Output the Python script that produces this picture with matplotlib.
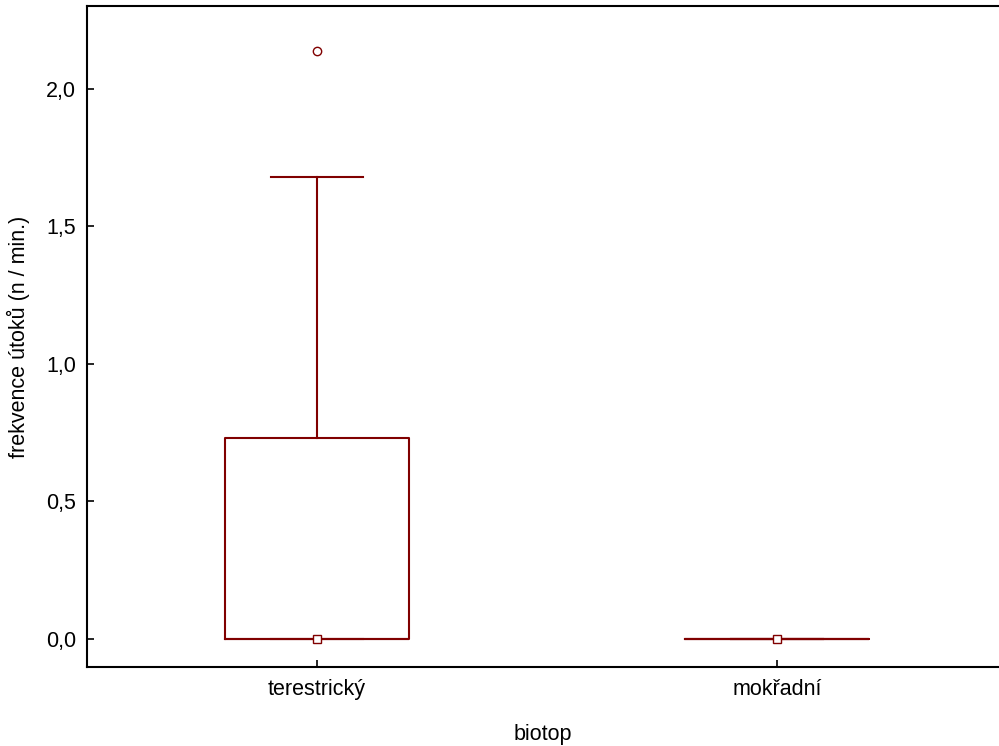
import matplotlib
matplotlib.use("Agg")
import matplotlib.pyplot as plt

plt.rcParams["font.family"] = ["Liberation Sans", "DejaVu Sans"]

# box plot summary per biotope (median, quartiles, whiskers, outliers)
biotopes = ["terestrický", "mokřadní"]
medians = [0.0, 0.0]
q1 = [0.0, 0.0]
q3 = [0.73, 0.0]
whisker_low = [0.0, 0.0]
whisker_high = [1.68, 0.0]
outliers = [[2.14], []]

red = "#800000"
fs = 15.5

stats = []
for i, name in enumerate(biotopes):
    stats.append({"label": name, "med": medians[i], "q1": q1[i], "q3": q3[i],
                  "whislo": whisker_low[i], "whishi": whisker_high[i], "fliers": outliers[i]})

fig = plt.figure(figsize=(9.99, 7.46), dpi=100)
ax = fig.add_axes([0.0871, 0.1059, 0.9129, 0.8861])

pos = [1, 2]
ax.bxp(stats, positions=pos, widths=0.4, capwidths=0.2, showmeans=False,
       boxprops=dict(color=red, linewidth=1.5),
       whiskerprops=dict(color=red, linewidth=1.5),
       capprops=dict(color=red, linewidth=1.5),
       medianprops=dict(color=red, linewidth=1.5),
       flierprops=dict(marker="o", markerfacecolor="white", markeredgecolor=red,
                       markersize=6, markeredgewidth=1))

# median marker
ax.plot(pos, medians, linestyle="none", marker="s", markersize=6,
        markerfacecolor="white", markeredgecolor=red, markeredgewidth=1, zorder=5)

ax.set_xlim(0.5, 2.483)
ax.set_ylim(-0.102, 2.302)
ax.set_yticks([0.0, 0.5, 1.0, 1.5, 2.0])
ax.set_yticklabels(["0,0", "0,5", "1,0", "1,5", "2,0"])
ax.set_xticks(pos)
ax.set_xticklabels(biotopes)
ax.tick_params(direction="in", length=5, width=1.2, labelsize=fs, pad=8, colors="black")
ax.tick_params(axis="x", pad=9)

for s in ["left", "top", "bottom"]:
    ax.spines[s].set_linewidth(1.5)
ax.spines["right"].set_visible(False)

ax.set_xlabel("biotop", fontsize=fs, labelpad=17)
ax.set_ylabel("frekvence útoků (n / min.)", fontsize=fs, labelpad=11)

fig.savefig("out.png", dpi=100)
